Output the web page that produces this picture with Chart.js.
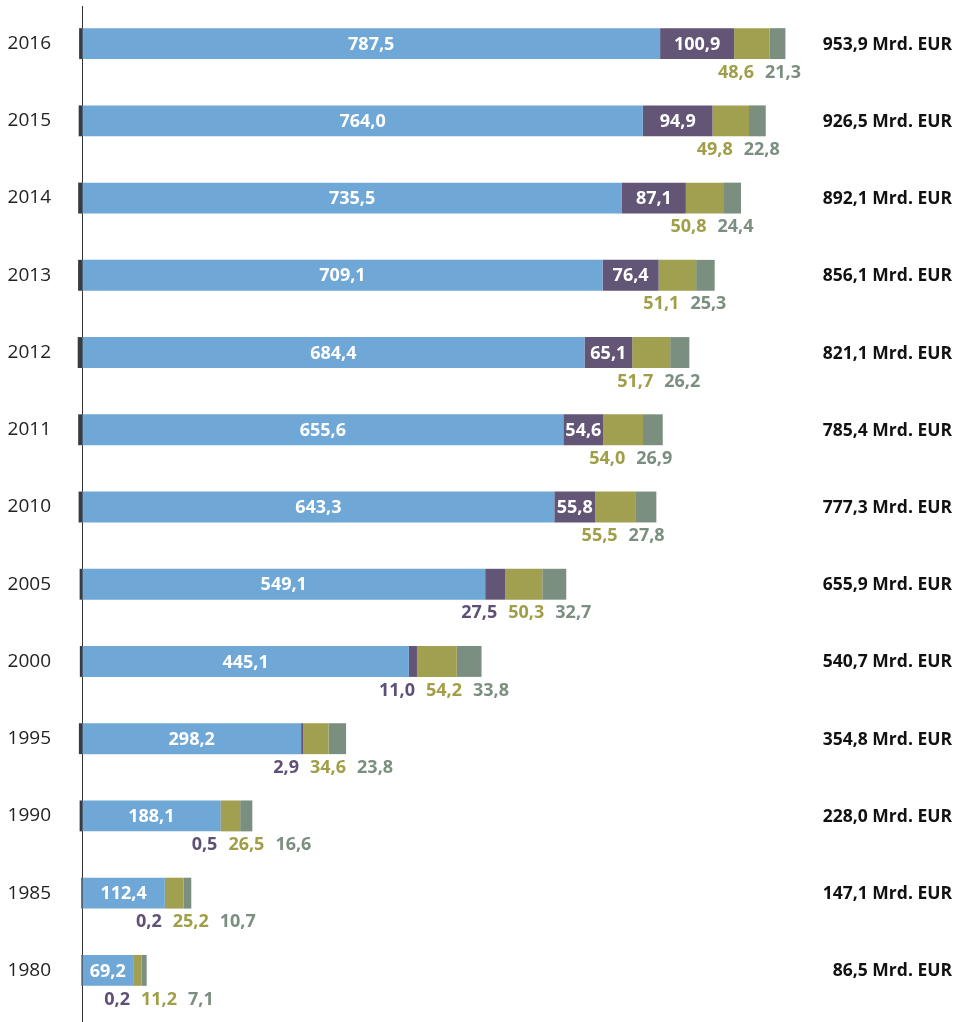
<!DOCTYPE html>
<html>
<head>
<meta charset="utf-8">
<script src="https://cdn.jsdelivr.net/npm/chart.js@4"></script>
<style>
  html, body { margin: 0; padding: 0; background: #fff; }
  #wrap { width: 963px; height: 1022px; position: relative; }
</style>
</head>
<body>
<div id="wrap"><canvas id="bar-chart"></canvas></div>
<script>
const years = ['2016', '2015', '2014', '2013', '2012', '2011', '2010', '2005', '2000', '1995', '1990', '1985', '1980'];
const negativ = [-4.4, -5.0, -5.7, -5.8, -6.3, -5.7, -5.1, -3.7, -3.4, -4.7, -3.7, -1.4, -1.2];
const blau = [787.5, 764.0, 735.5, 709.1, 684.4, 655.6, 643.3, 549.1, 445.1, 298.2, 188.1, 112.4, 69.2];
const lila = [100.9, 94.9, 87.1, 76.4, 65.1, 54.6, 55.8, 27.5, 11.0, 2.9, 0.5, 0.2, 0.2];
const oliv = [48.6, 49.8, 50.8, 51.1, 51.7, 54.0, 55.5, 50.3, 54.2, 34.6, 26.5, 25.2, 11.2];
const grau = [21.3, 22.8, 24.4, 25.3, 26.2, 26.9, 27.8, 32.7, 33.8, 23.8, 16.6, 10.7, 7.1];
const gesamt = [953.9, 926.5, 892.1, 856.1, 821.1, 785.4, 777.3, 655.9, 540.7, 354.8, 228.0, 147.1, 86.5];

const fmt = v => v.toFixed(1).replace('.', ',');
const FONT = '"Open Sans", sans-serif';

// blue and purple values sit inside the bar when they fit, the rest go in a row underneath
const labelPlugin = {
    id: 'labels',
    beforeDatasetsDraw(chart) {
        const c = chart.ctx;
        const x0 = chart.scales.x.getPixelForValue(0);
        c.save();
        c.strokeStyle = '#333';
        c.lineWidth = 1;
        c.beginPath();
        c.moveTo(Math.round(x0) + 0.5, 6);
        c.lineTo(Math.round(x0) + 0.5, chart.height);
        c.stroke();
        c.restore();
    },
    afterDatasetsDraw(chart) {
        const c = chart.ctx;
        c.save();
        c.textBaseline = 'middle';
        years.forEach((y, j) => {
            c.font = 'bold 18px ' + FONT;
            const below = [];
            for (let i = 1; i < chart.data.datasets.length; i++) {
                const ds = chart.data.datasets[i];
                const bar = chart.getDatasetMeta(i).data[j];
                const txt = fmt(ds.data[j]);
                const w = c.measureText(txt).width;
                const segW = Math.abs(bar.x - bar.base);
                const cx = (bar.x + bar.base) / 2;
                if (i === 1 || (i === 2 && segW >= w + 2)) {
                    c.fillStyle = '#fff';
                    c.textAlign = 'center';
                    c.fillText(txt, cx, bar.y + 1);
                } else {
                    below.push({txt, w, cx, color: ds.labelColor, y: bar.y});
                }
            }
            let left = null;
            below.forEach(b => {
                if (left === null) left = b.cx - 16 - b.w / 2;
                c.fillStyle = b.color;
                c.textAlign = 'left';
                c.fillText(b.txt, left, b.y + 29);
                left += b.w + 11;
            });
            // total on the right
            const yc = chart.getDatasetMeta(0).data[j].y;
            c.font = 'bold 17.5px ' + FONT;
            c.fillStyle = '#111';
            c.textAlign = 'right';
            c.fillText(fmt(gesamt[j]) + ' Mrd. EUR', chart.width - 11, yc + 1);
        });
        c.restore();
    }
};

const ctx = document.getElementById('bar-chart').getContext('2d');
const myChart = new Chart(ctx, {
    type: 'bar',
    data: {
        labels: years,
        datasets: [
            {data: negativ, backgroundColor: '#3b3a40'},
            {data: blau, backgroundColor: '#6fa7d6', labelColor: '#fff'},
            {data: lila, backgroundColor: '#625575', labelColor: '#5e5076'},
            {data: oliv, backgroundColor: '#a1a050', labelColor: '#a09e48'},
            {data: grau, backgroundColor: '#7a8f7f', labelColor: '#7b8f80'},
        ]
    },
    options: {
        indexAxis: 'y',
        responsive: true,
        maintainAspectRatio: false,
        animation: false,
        layout: {padding: {top: 5, bottom: 13, left: 0, right: 147}},
        datasets: {bar: {barPercentage: 1, categoryPercentage: 0.4, borderWidth: 0}},
        plugins: {
            legend: {display: false},
            title: {display: false},
            tooltip: {enabled: false},
        },
        scales: {
            x: {
                stacked: true,
                display: false,
                min: -10,
                max: 1000,
            },
            y: {
                stacked: true,
                grid: {display: false},
                border: {display: false},
                ticks: {
                    padding: 16,
                    color: '#222',
                    font: {family: FONT, size: 19},
                },
                afterFit(scale) {
                    scale.width = 75;
                    scale.paddingTop = 0;
                    scale.paddingBottom = 0;
                },
            }
        },
    },
    plugins: [labelPlugin],
});
</script>
</body>
</html>
